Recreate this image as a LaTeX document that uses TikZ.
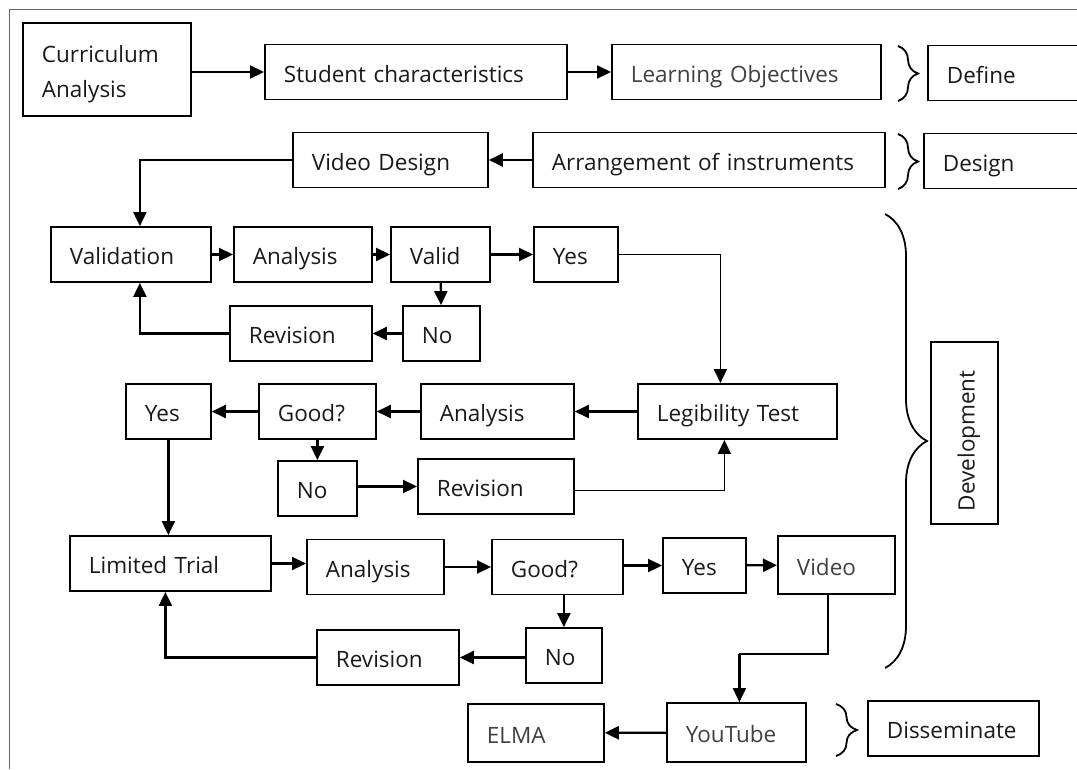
\documentclass[tikz,border=0pt]{standalone}
\usepackage{fontspec}
\setmainfont{Open Sans}
\usetikzlibrary{arrows.meta,decorations.pathreplacing}

\begin{document}
\begin{tikzpicture}[x=1pt, y=-1pt,
    box/.style={draw, line width=1.8pt, anchor=west, inner xsep=19pt, inner ysep=0pt,
        minimum height=55pt, text height=22pt, text depth=2pt, align=left,
        text=black!90, font=\fontsize{22.5}{35}\selectfont},
    arr/.style={line width=2.2pt, -{Triangle[length=14pt, width=13pt]}},
    ln/.style={line width=1.6pt},
    brc/.style={line width=1.8pt, decorate, decoration={brace, amplitude=#1}}]
    \useasboundingbox (0, 0) rectangle (1077, 769);
    \clip (0, 0) rectangle (1077, 769);
    \draw[black!60, line width=1pt] (9, 769) -- (9, 9) -- (1077, 9);

    \node[box, minimum height=93pt, text depth=37pt, text width=130pt] at (22, 69.5) (ca) {Curriculum\\Analysis};
    \node[box, text width=264pt] at (264, 72) (sc) {Student characteristics};
    \node[box, text width=231pt, text=black!75] at (611, 72) (lo) {Learning Objectives};
    \node[box, text width=130pt] at (927, 73) (def) {Define};

    \node[box, text width=157pt] at (292, 160) (vd) {Video Design};
    \node[box, text width=314pt] at (532, 160) (aoi) {Arrangement of instruments};
    \node[box, text width=130pt] at (923, 161) (des) {Design};

    \node[box, text width=122pt] at (50, 254.5) (val) {Validation};
    \node[box, text width=100pt] at (233, 254.5) (an1) {Analysis};
    \node[box, text width=61pt] at (390, 254.5) (valid) {Valid};
    \node[box, text width=46pt] at (533, 254.5) (yes1) {Yes};
    \node[box, text width=39pt] at (402, 333.5) (no1) {No};
    \node[box, text width=104pt] at (229, 333.5) (rev1) {Revision};

    \node[box, text width=161pt] at (637, 411.5) (leg) {Legibility Test};
    \node[box, text width=115pt] at (420, 411.5) (an2) {Analysis};
    \node[box, text width=79pt] at (258, 411.5) (good1) {Good?};
    \node[box, text width=47pt] at (125, 411.5) (yes2) {Yes};
    \node[box, text width=41pt] at (277, 488.5) (no2) {No};
    \node[box, text width=118pt] at (417, 486.5) (rev2) {Revision};

    \node[box, text width=163pt] at (69, 563.5) (lt) {Limited Trial};
    \node[box, text width=99pt] at (306, 567) (an3) {Analysis};
    \node[box, text width=93pt] at (491, 567) (good2) {Good?};
    \node[box, text width=45pt] at (662, 565.5) (yes3) {Yes};
    \node[box, text width=79pt, minimum height=58pt, text=black!75] at (777, 565) (vid) {Video};
    \node[box, text width=38pt] at (525, 655.5) (no3) {No};
    \node[box, text width=104pt] at (316, 657.5) (rev3) {Revision};

    \node[box, text width=101pt, minimum height=59pt, text=black!75] at (666, 732.5) (yt) {YouTube};
    \node[box, text width=98pt, minimum height=58pt, text=black!75] at (467, 733) (elma) {ELMA};
    \node[box, text width=133pt] at (867, 728.5) (dis) {Disseminate};

    \node[box, rotate=90, minimum height=67pt, text width=156pt, inner xsep=13pt] at (964.5, 525) (dev) {Development};

    \draw[arr] (ca.east |- sc) -- (sc);
    \draw[arr] (sc) -- (lo);
    \draw[arr] (aoi) -- (vd);
    \draw[arr] (vd.west) -| ([xshift=9pt]val.north);

    \draw[arr] (val) -- (an1);
    \draw[arr] (an1) -- (valid);
    \draw[arr] (valid) -- (yes1);
    \draw[arr] (valid) -- (no1);
    \draw[arr] (no1) -- (rev1);
    \draw[arr] (rev1.west) -| ([xshift=9pt]val.south);
    \draw[ln, -{Triangle[length=14pt, width=13pt]}] (yes1.east) -| ([xshift=-17pt]leg.north);

    \draw[arr] (leg) -- (an2);
    \draw[arr] (an2) -- (good1);
    \draw[arr] (good1) -- (yes2);
    \draw[arr] (good1) -- (no2);
    \draw[arr] (no2.east |- rev2) -- (rev2);
    \draw[ln, -{Triangle[length=14pt, width=13pt]}] ([yshift=-4pt]rev2.east) -| ([xshift=-13pt]leg.south);
    \draw[arr] (yes2.south) -- (yes2.south |- lt.north);

    \draw[arr] (lt.east) -- (lt.east -| an3.west);
    \draw[arr] (an3) -- (good2);
    \draw[arr] (good2.east |- yes3) -- (yes3);
    \draw[arr] (yes3) -- (vid);
    \draw[arr] (good2.south -| no3) -- (no3);
    \draw[arr] (no3.west |- rev3) -- (rev3);
    \draw[arr] (rev3.west) -| ([xshift=-5pt]lt.south);

    \coordinate (bend) at (828, 654);
    \draw[ln] (vid.south -| bend) -- (bend) -| ([xshift=3pt]yt.north);
    \draw[arr] ([xshift=3pt]yt.north |- bend) -- ([xshift=3pt]yt.north);
    \draw[arr] (yt) -- (elma);

    \draw[brc=20pt] (898, 46) -- (898, 101);
    \draw[brc=20pt] (898, 134) -- (898, 189);
    \draw[brc=42pt] (885, 214) -- (885, 668);
    \draw[brc=21pt] (836, 704) -- (836, 756);
\end{tikzpicture}
\end{document}
